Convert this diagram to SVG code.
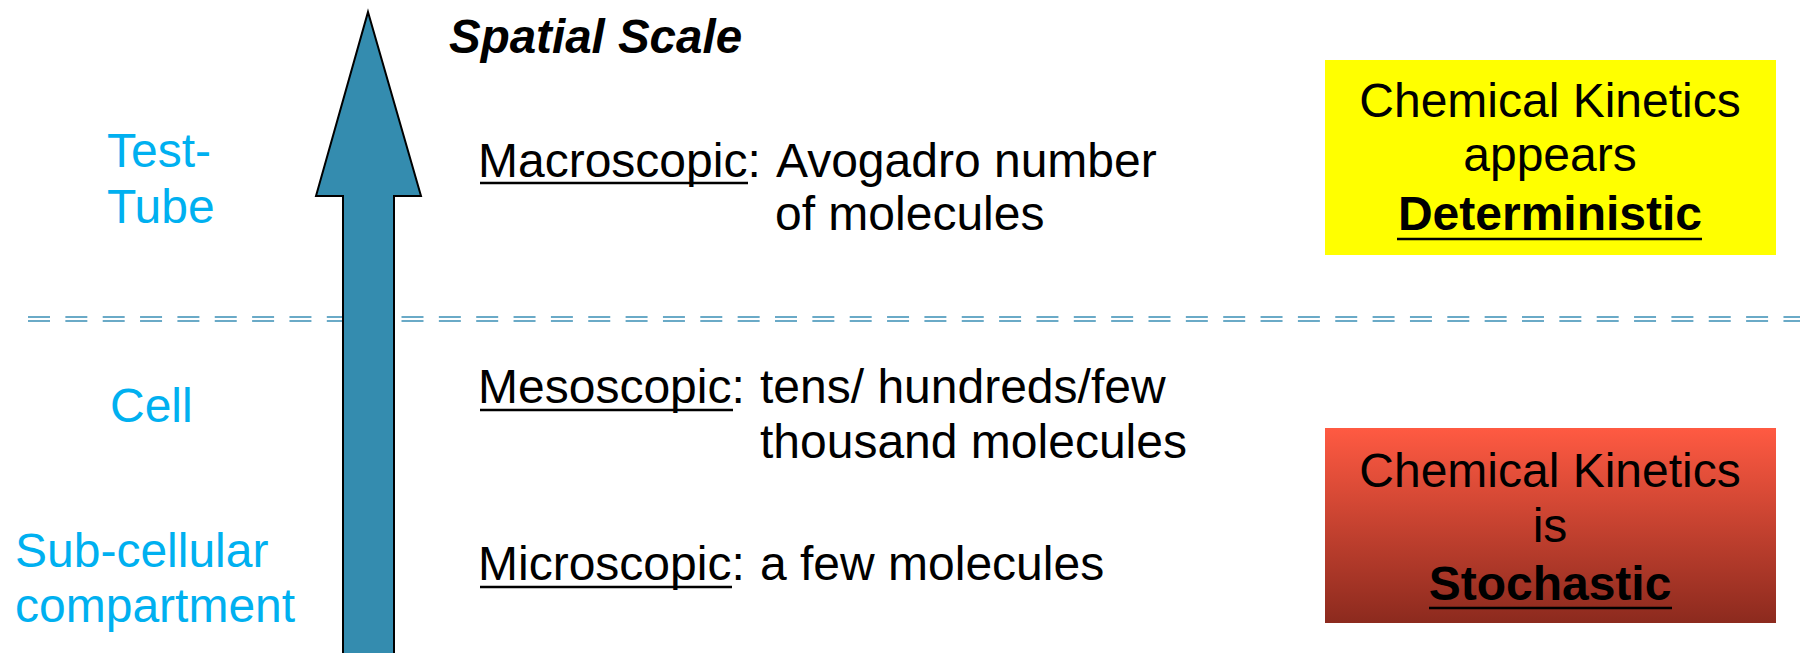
<svg xmlns="http://www.w3.org/2000/svg" width="1800" height="653" viewBox="0 0 1800 653">
  <defs>
    <linearGradient id="redGrad" x1="0" y1="0" x2="0" y2="1">
      <stop offset="0" stop-color="#FF5A42"/>
      <stop offset="1" stop-color="#8C2A1E"/>
    </linearGradient>
    <style>
      .t { font-family: "Liberation Sans", Arial, sans-serif; font-size: 48px; fill: #000; }
      .blue { font-family: "Liberation Sans", Arial, sans-serif; font-size: 48px; fill: #00B0F0; }
      .box { font-family: "Liberation Sans", Arial, sans-serif; font-size: 48px; fill: #000; text-anchor: middle; }
      .b { font-weight: bold; }
      .ul { stroke: #000; stroke-width: 2.6; }
      .dash { stroke: #3A8FB5; stroke-width: 1.6; fill: none; stroke-dasharray: 22 15.35; }
    </style>
  </defs>
  <rect width="1800" height="653" fill="#FFFFFF"/>

  <g id="connectors">
    <line class="dash" x1="28" y1="317" x2="1800" y2="317"/>
    <line class="dash" x1="28" y1="321" x2="1800" y2="321"/>
  </g>

  <g id="scale-arrow">
    <polygon points="368,12 421,196 394,196 394,660 343,660 343,196 316,196" fill="#348CAF" stroke="#000" stroke-width="2"/>
  </g>

  <g id="title">
    <text x="449" y="53" class="t b" style="font-style:italic;font-size:47.5px">Spatial Scale</text>
  </g>

  <g id="label-testtube">
    <text x="107" y="167" class="blue">Test-</text>
    <text x="107" y="223" class="blue">Tube</text>
  </g>
  <g id="label-cell">
    <text x="110" y="422" class="blue">Cell</text>
  </g>
  <g id="label-subcellular">
    <text x="15" y="567" class="blue">Sub-cellular</text>
    <text x="15" y="622" class="blue">compartment</text>
  </g>

  <g id="macroscopic">
    <text x="478" y="177" class="t">Macroscopic:</text>
    <line class="ul" x1="480" y1="183" x2="748" y2="183"/>
    <text x="776" y="177" class="t">Avogadro number</text>
    <text x="775" y="230" class="t">of molecules</text>
  </g>

  <g id="mesoscopic">
    <text x="478" y="403" class="t">Mesoscopic:</text>
    <line class="ul" x1="480" y1="410" x2="733" y2="410"/>
    <text x="760" y="403" class="t">tens/ hundreds/few</text>
    <text x="760" y="458" class="t">thousand molecules</text>
  </g>

  <g id="microscopic">
    <text x="478" y="580" class="t">Microscopic:</text>
    <line class="ul" x1="480" y1="587" x2="732" y2="587"/>
    <text x="760" y="580" class="t">a few molecules</text>
  </g>

  <g id="box-deterministic">
    <rect x="1325" y="60" width="451" height="195" fill="#FFFF00"/>
    <text x="1550" y="117" class="box">Chemical Kinetics</text>
    <text x="1550" y="171" class="box">appears</text>
    <text x="1550" y="230" class="box b">Deterministic</text>
    <line class="ul" x1="1397" y1="239" x2="1702" y2="239" stroke-width="3"/>
  </g>

  <g id="box-stochastic">
    <rect x="1325" y="428" width="451" height="195" fill="url(#redGrad)"/>
    <text x="1550" y="487" class="box">Chemical Kinetics</text>
    <text x="1550" y="542" class="box">is</text>
    <text x="1550" y="600" class="box b">Stochastic</text>
    <line class="ul" x1="1429" y1="608" x2="1672" y2="608" stroke-width="3"/>
  </g>
</svg>
